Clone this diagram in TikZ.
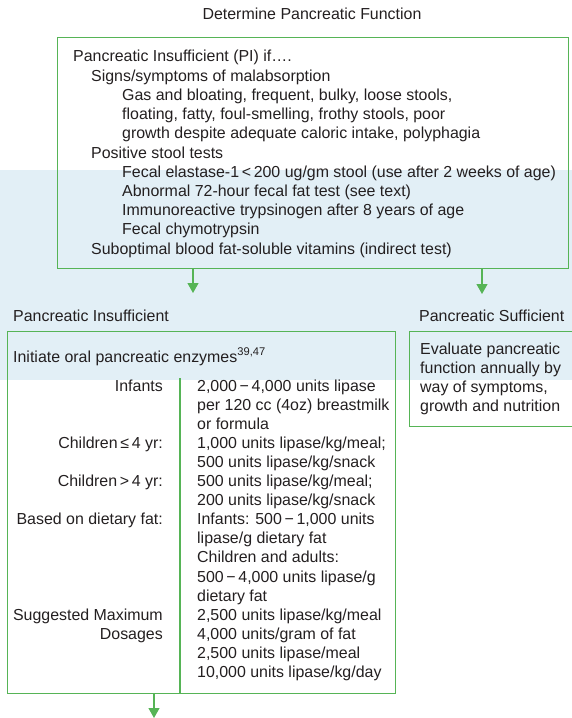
\documentclass[tikz,border=0pt]{standalone}
\usepackage{fontspec}
\setmainfont{Liberation Sans}
\usetikzlibrary{positioning,arrows.meta}

\definecolor{boxgreen}{RGB}{86,180,86}
\definecolor{textgray}{RGB}{35,31,32}
\definecolor{bandblue}{RGB}{226,239,246}

\tikzset{
	greenbox/.style={draw=boxgreen, line width=1.2bp, inner sep=0pt, anchor=north west},
	greenline/.style={draw=boxgreen, line width=1.2bp},
	flowarrow/.style={draw=boxgreen, line width=1.2bp, -{Triangle[width=11bp,length=10bp]}},
	txt/.style={font=\fontsize{16}{19.2}\selectfont, text=textgray, inner sep=0pt, anchor=base west},
	lbl/.style={txt, anchor=base east},
}

\begin{document}
\begin{tikzpicture}[x=1bp, y=-1bp]
				\useasboundingbox (0,0) rectangle (572,718);
\fill[bandblue] (0,170) rectangle (572,380);

\node[txt, anchor=base] (title) at (312, 20) {Determine Pancreatic Function};

\node[greenbox, minimum width=511bp, minimum height=231bp] (pitest) at (57, 37) {};
\node[greenbox, minimum width=388bp, minimum height=362bp] (pibox) at (7, 331) {};
\node[greenbox, minimum width=166bp, minimum height=95bp] (psbox) at (409, 331) {};

\node[txt] (pi01) at (73, 62) {Pancreatic Insufficient (PI) if….};
\node[txt] (pi02) at (91, 81.2) {Signs/symptoms of malabsorption};
\node[txt] (pi03) at (122, 100.4) {Gas and bloating, frequent, bulky, loose stools,};
\node[txt] (pi04) at (122, 119.6) {floating, fatty, foul-smelling, frothy stools, poor};
\node[txt] (pi05) at (122, 138.8) {growth despite adequate caloric intake, polyphagia};
\node[txt] (pi06) at (91, 158) {Positive stool tests};
\node[txt] (pi07) at (122, 177.2) {Fecal elastase-1\,<\,200 ug/gm stool (use after 2 weeks of age)};
\node[txt] (pi08) at (122, 196.4) {Abnormal 72-hour fecal fat test (see text)};
\node[txt] (pi09) at (122, 215.6) {Immunoreactive trypsinogen after 8 years of age};
\node[txt] (pi10) at (122, 234.8) {Fecal chymotrypsin};
\node[txt] (pi11) at (91, 254) {Suboptimal blood fat-soluble vitamins (indirect test)};

\node[txt] (lblins) at (13, 321) {Pancreatic Insufficient};
\node[txt] (lblsuf) at (419, 321) {Pancreatic Sufficient};

\node[txt] (ev1) at (420, 354) {Evaluate pancreatic};
\node[txt] (ev2) at (420, 373.2) {function annually by};
\node[txt] (ev3) at (420, 392.4) {way of symptoms,};
\node[txt] (ev4) at (420, 411.6) {growth and nutrition};

\node[txt] (init) at (13, 362) {Initiate oral pancreatic enzymes\textsuperscript{39,47}};

\node[lbl] (k01) at (163, 391) {Infants};
\node[lbl] (k02) at (163, 448.3) {Children\,≤\,4 yr:};
\node[lbl] (k03) at (163, 486.5) {Children\,>\,4 yr:};
\node[lbl] (k04) at (163, 524.7) {Based on dietary fat:};
\node[lbl] (k05) at (163, 620.2) {Suggested Maximum};
\node[lbl] (k06) at (163, 639.3) {Dosages};

\node[txt] (v01) at (197, 391) {2,000\,−\,4,000 units lipase};
\node[txt] (v02) at (197, 410.1) {per 120 cc (4oz) breastmilk};
\node[txt] (v03) at (197, 429.2) {or formula};
\node[txt] (v04) at (197, 448.3) {1,000 units lipase/kg/meal;};
\node[txt] (v05) at (197, 467.4) {500 units lipase/kg/snack};
\node[txt] (v06) at (197, 486.5) {500 units lipase/kg/meal;};
\node[txt] (v07) at (197, 505.6) {200 units lipase/kg/snack};
\node[txt] (v08) at (197, 524.7) {Infants: 500\,−\,1,000 units};
\node[txt] (v09) at (197, 543.8) {lipase/g dietary fat};
\node[txt] (v10) at (197, 562.9) {Children and adults:};
\node[txt] (v11) at (197, 582) {500\,−\,4,000 units lipase/g};
\node[txt] (v12) at (197, 601.1) {dietary fat};
\node[txt] (v13) at (197, 620.2) {2,500 units lipase/kg/meal};
\node[txt] (v14) at (197, 639.3) {4,000 units/gram of fat};
\node[txt] (v15) at (197, 658.4) {2,500 units lipase/meal};
\node[txt] (v16) at (197, 677.5) {10,000 units lipase/kg/day};

\coordinate (divtop) at (180, 378);
\coordinate (insend) at (193, 293);
\coordinate (sufend) at (482, 294);
\coordinate (nextend) at (154, 718);

\draw[greenline] (divtop) -- (divtop |- pibox.south);

\draw[flowarrow] (pitest.south -| insend) -- (insend);
\draw[flowarrow] (pitest.south -| sufend) -- (sufend);
\draw[flowarrow] (pibox.south -| nextend) -- (nextend);
			\end{tikzpicture}
\end{document}
